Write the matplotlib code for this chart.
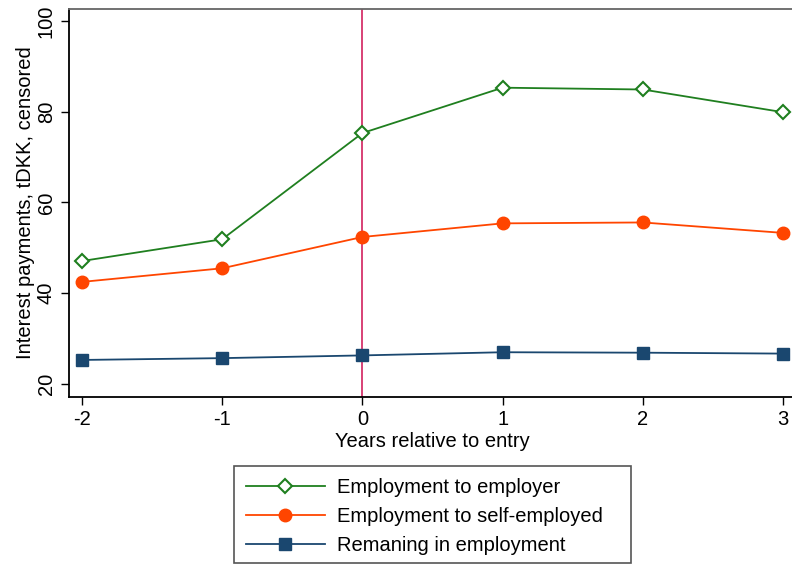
import matplotlib.pyplot as plt
from matplotlib.patches import Rectangle

plt.rcParams['font.family'] = ['Liberation Sans', 'DejaVu Sans']
plt.rcParams['axes.unicode_minus'] = False

# data
years = [-2, -1, 0, 1, 2, 3]
to_employer = [47.1, 51.9, 75.3, 85.3, 84.9, 79.9]
to_self = [42.5, 45.5, 52.4, 55.4, 55.6, 53.3]
remaining = [25.3, 25.7, 26.3, 27.0, 26.9, 26.7]
labels = ['Employment to employer', 'Employment to self-employed',
          'Remaning in employment']

fig = plt.figure(figsize=(7.92, 5.64), dpi=100)
ax = fig.add_axes([69 / 792, 167 / 564, 727 / 792, 388 / 564])

fs = 14.5
ax.axvline(0, color='#d6336b', lw=1.3, zorder=1)
ax.plot(years, to_employer, color='#1f7f1f', lw=1.3, marker='D', ms=7.5,
        mfc='white', mec='#1f7f1f', mew=1.5, label=labels[0], zorder=3)
ax.plot(years, to_self, color='#ff4500', lw=1.3, marker='o', ms=9,
        label=labels[1], zorder=3)
ax.plot(years, remaining, color='#1a476f', lw=1.3, marker='s', ms=8.5,
        label=labels[2], zorder=3)

ax.set_xlim(-2.0927, 3.0927)
ax.set_ylim(17.135, 102.64)
ax.set_xticks(years)
ax.set_yticks([20, 40, 60, 80, 100])
ax.tick_params(axis='both', direction='out', length=6, width=1,
               labelsize=fs, colors='black')
ax.tick_params(axis='y', labelrotation=90)
for t in ax.get_yticklabels():
    t.set_va('center')
ax.set_xlabel('Years relative to entry', fontsize=fs, labelpad=2)
ax.set_ylabel('Interest payments, tDKK, censored', fontsize=fs, labelpad=1)

for s in ['left', 'bottom']:
    ax.spines[s].set_color('black')
    ax.spines[s].set_linewidth(1.3)
ax.spines['top'].set_color('#666666')
ax.spines['top'].set_linewidth(1.3)
ax.spines['right'].set_visible(False)

# legend below the plot, with a box drawn to match the original size
fig.patches.append(Rectangle((234 / 792, 1.5 / 564), 397 / 792, 96.5 / 564,
                             transform=fig.transFigure, fill=False,
                             edgecolor='#555555', lw=1.2))
fig.legend(loc='upper left', bbox_to_anchor=(234 / 792, 98 / 564),
           fontsize=fs, frameon=False, handlelength=3.9, handletextpad=0.6,
           labelspacing=0.5, borderpad=0.6, borderaxespad=0)

fig.savefig('out.png', dpi=100)
